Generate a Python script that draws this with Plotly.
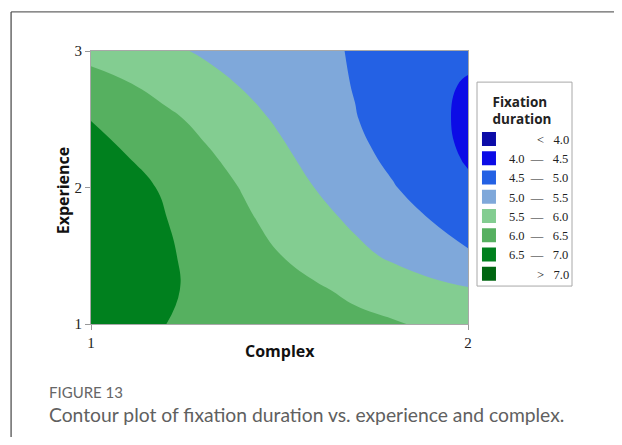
import plotly.graph_objects as go

# ---- data ----
complex_vals = [1.0, 1.1, 1.2, 1.3, 1.4, 1.5, 1.6, 1.7, 1.8, 1.9, 2.0]
experience_vals = [1.0, 1.25, 1.5, 1.75, 2.0, 2.25, 2.5, 2.75, 3.0]
fixation = [
    [6.76, 6.63, 6.50, 6.42, 6.34, 6.27, 6.19, 6.11, 6.04, 5.93, 5.80],  # y=1.00
    [6.84, 6.70, 6.55, 6.41, 6.29, 6.17, 6.05, 5.91, 5.77, 5.64, 5.54],  # y=1.25
    [6.87, 6.72, 6.55, 6.37, 6.19, 6.01, 5.82, 5.62, 5.43, 5.25, 5.06],  # y=1.50
    [6.88, 6.71, 6.51, 6.30, 6.09, 5.87, 5.65, 5.43, 5.22, 5.01, 4.79],  # y=1.75
    [6.85, 6.65, 6.44, 6.21, 5.98, 5.73, 5.48, 5.26, 5.03, 4.80, 4.57],  # y=2.00
    [6.70, 6.48, 6.27, 6.06, 5.83, 5.58, 5.34, 5.12, 4.89, 4.67, 4.44],  # y=2.25
    [6.49, 6.29, 6.10, 5.88, 5.66, 5.44, 5.23, 5.02, 4.82, 4.61, 4.41],  # y=2.50
    [6.25, 6.03, 5.83, 5.65, 5.48, 5.32, 5.15, 4.98, 4.82, 4.63, 4.45],  # y=2.75
    [5.80, 5.70, 5.58, 5.45, 5.33, 5.21, 5.08, 4.97, 4.85, 4.73, 4.62],  # y=3.00
]
band_labels = ["< 4.0", "4.0 – 4.5", "4.5 – 5.0", "5.0 – 5.5",
               "5.5 – 6.0", "6.0 – 6.5", "6.5 – 7.0", "> 7.0"]
band_colors = ["#0c0ca8", "#0c0ce6", "#2461e4", "#7fa8da",
               "#83cd91", "#56b060", "#00801e", "#006611"]
x_ticks = [1, 2]
y_ticks = [1, 2, 3]

NB = "\u00a0"


def legend_text(lbl):
    if lbl.startswith("<") or lbl.startswith(">"):
        sym, val = lbl.split(" ")
        return NB * 9 + sym + NB * 3 + val
    a, _, b = lbl.split(" ")
    return a + NB * 2 + "—" + NB * 3 + b


n = len(band_colors)
colorscale = [[i / (n - 1), c] for i, c in enumerate(band_colors)]

fig = go.Figure()
fig.add_trace(go.Contour(
    x=complex_vals, y=experience_vals, z=fixation,
    contours=dict(start=4.0, end=7.0, size=0.5, coloring="fill", showlines=False),
    colorscale=colorscale, showscale=False, line=dict(width=0, smoothing=1.3),
    hoverinfo="skip", showlegend=False,
))
for lbl, col in zip(band_labels, band_colors):
    fig.add_trace(go.Scatter(
        x=[None], y=[None], mode="markers", name=legend_text(lbl),
        marker=dict(symbol="square", size=14, color=col),
    ))

tickfont = dict(family="Liberation Serif", size=15, color="#222")
fig.update_xaxes(range=[1, 2], tickvals=x_ticks, ticks="outside", ticklen=5,
                 tickcolor="#999", showline=True, linecolor="#a8a8a8", mirror=True,
                 showgrid=False, zeroline=False, tickfont=tickfont)
fig.update_yaxes(range=[1, 3], tickvals=y_ticks, ticks="outside", ticklen=5,
                 tickcolor="#999", showline=True, linecolor="#a8a8a8", mirror=True,
                 showgrid=False, zeroline=False, tickfont=tickfont)

fig.update_layout(
    width=606, height=429,
    margin=dict(l=83, r=146, t=43, b=113),
    plot_bgcolor="white", paper_bgcolor="white",
    legend=dict(
        x=1.0026, y=0.86, xanchor="left", yanchor="top",
        borderwidth=0, bgcolor="rgba(0,0,0,0)",
        font=dict(family="Liberation Serif", size=12.5, color="#222"),
        title=dict(text="<b>Fixation<br>duration</b>", side="top center",
                   font=dict(family="Open Sans", size=13.5, color="#222")),
        itemclick=False, tracegroupgap=0,
    ),
    showlegend=True,
    shapes=[
        # legend frame
        dict(type="rect", xref="paper", yref="paper", x0=1.0239, x1=1.2759,
             y0=0.139, y1=0.886, line=dict(color="#a8a8a8", width=1),
             fillcolor="rgba(0,0,0,0)", layer="below"),
        # outer panel border
        dict(type="line", xref="paper", yref="paper", x0=-0.212, x1=1.5,
             y0=1.143, y1=1.143, line=dict(color="#666", width=1.2)),
        dict(type="line", xref="paper", yref="paper", x0=-0.212, x1=-0.212,
             y0=1.143, y1=-0.5, line=dict(color="#444", width=1.2)),
    ],
    annotations=[
        dict(text="<b>Complex</b>", xref="paper", yref="paper", x=0.5, y=-0.098,
             xanchor="center", yanchor="middle", showarrow=False,
             font=dict(family="Open Sans", size=16, color="#111")),
        dict(text="<b>Experience</b>", xref="paper", yref="paper", x=-0.074, y=0.49,
             xanchor="center", yanchor="middle", showarrow=False, textangle=-90,
             font=dict(family="Open Sans", size=16, color="#111")),
        dict(text="FIGURE 13", xref="paper", yref="paper", x=-0.118, y=-0.249,
             xanchor="left", yanchor="middle", showarrow=False,
             font=dict(family="Lato", size=15, color="#666666")),
        dict(text="Contour plot of fixation duration vs. experience and complex.",
             xref="paper", yref="paper", x=-0.118, y=-0.333,
             xanchor="left", yanchor="middle", showarrow=False,
             font=dict(family="Lato", size=19.3, color="#606060")),
    ],
)

fig.write_html("out.html")
